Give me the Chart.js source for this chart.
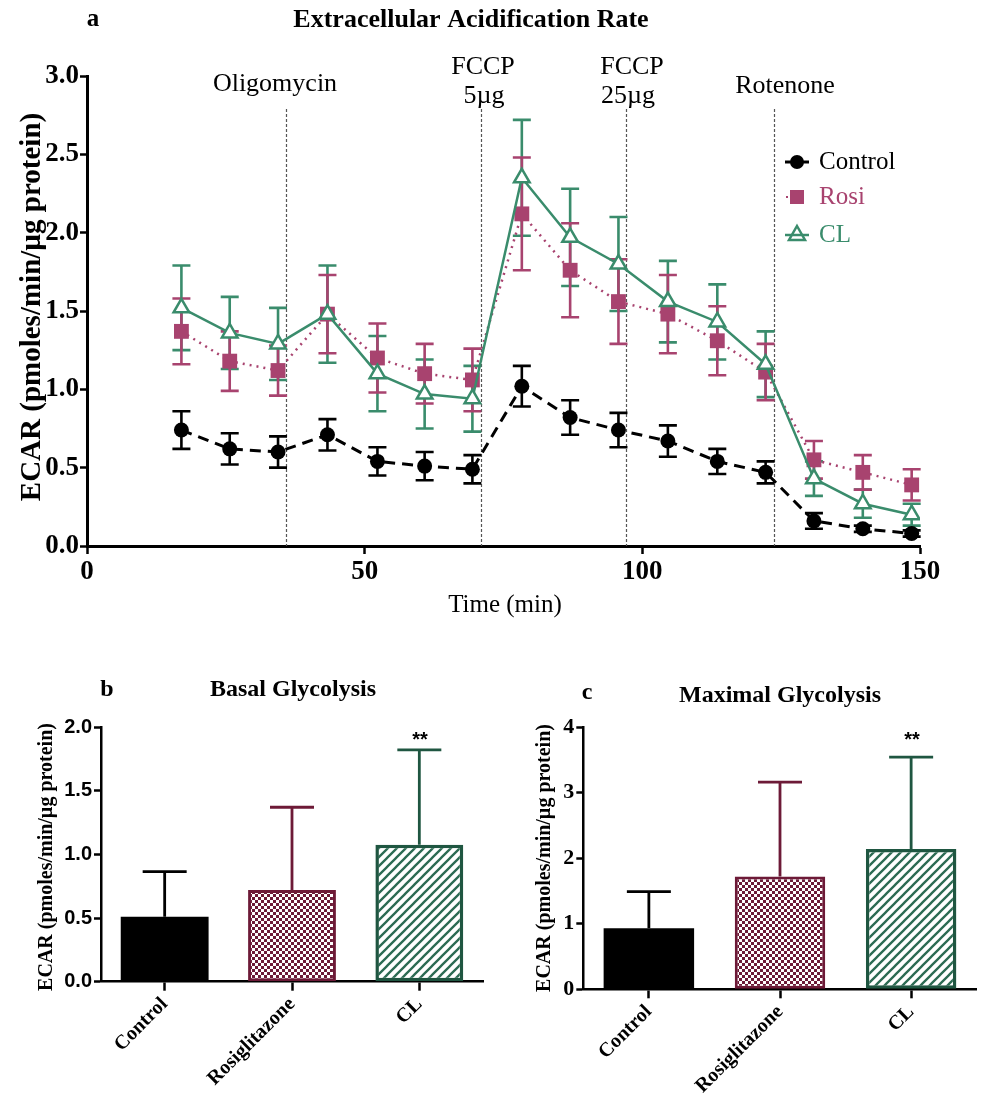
<!DOCTYPE html>
<html>
<head>
<meta charset="utf-8">
<script src="https://cdn.jsdelivr.net/npm/chart.js@4/dist/chart.umd.min.js"></script>
<style>
body { margin: 0; background: #fff; width: 983px; height: 1099px; position: relative; overflow: hidden; }
canvas { position: absolute; }
</style>
</head>
<body>
<canvas id="ecar" width="983" height="625" style="left:0;top:0"></canvas>
<canvas id="basal" width="490" height="439" style="left:0;top:660px"></canvas>
<canvas id="maximal" width="493" height="439" style="left:490px;top:660px"></canvas>
<script>
// time course (panel a)
const times = [17, 25.7, 34.4, 43.3, 52.3, 60.8, 69.4, 78.3, 87, 95.7, 104.6, 113.5, 122.2, 130.9, 139.7, 148.5]
const controlMean = [0.74, 0.62, 0.60, 0.71, 0.54, 0.51, 0.49, 1.02, 0.82, 0.74, 0.67, 0.54, 0.47, 0.16, 0.11, 0.08]
const controlErr = [0.12, 0.10, 0.10, 0.10, 0.09, 0.09, 0.09, 0.13, 0.11, 0.11, 0.10, 0.08, 0.07, 0.05, 0.02, 0.02]
const rosiMean = [1.37, 1.18, 1.12, 1.48, 1.20, 1.10, 1.06, 2.12, 1.76, 1.56, 1.48, 1.31, 1.11, 0.55, 0.47, 0.39]
const rosiErr = [0.21, 0.19, 0.16, 0.25, 0.22, 0.19, 0.20, 0.36, 0.30, 0.27, 0.25, 0.22, 0.18, 0.12, 0.11, 0.10]
const clMean = [1.52, 1.36, 1.29, 1.48, 1.10, 0.97, 0.94, 2.35, 1.97, 1.80, 1.56, 1.43, 1.16, 0.43, 0.27, 0.20]
const clErr = [0.27, 0.23, 0.23, 0.31, 0.24, 0.22, 0.21, 0.37, 0.31, 0.30, 0.26, 0.24, 0.21, 0.11, 0.09, 0.07]
const injectTimes = [35.9, 71.0, 97.0, 123.7]
const injectTop = 2.79

// bar panels (b, c)
const groups = ['Control', 'Rosiglitazone', 'CL']
const basalMean = [0.51, 0.72, 1.075]
const basalErr = [0.355, 0.65, 0.745]
const maximalMean = [0.93, 1.72, 2.14]
const maximalErr = [0.56, 1.44, 1.40]

const SERIF = '"Liberation Serif", "Times New Roman", serif'
const SANS = '"Liberation Sans", Arial, sans-serif'
const ROSI = '#a8436f'
const CLC = '#3a8c6c'
const MAROON = '#6d1a37'
const DKGREEN = '#1f5641'

// draw a list of text items on a chart canvas
function textPlugin(items) {
    return {
        id: 'texts',
        afterDraw(chart) {
            const ctx = chart.ctx
            items.forEach(t => {
                ctx.save()
                ctx.font = t.font
                ctx.fillStyle = t.color || '#000'
                ctx.textAlign = t.align || 'center'
                ctx.textBaseline = 'middle'
                ctx.translate(t.x, t.y)
                if (t.rot) ctx.rotate(t.rot)
                ctx.fillText(t.text, 0, 0)
                ctx.restore()
            })
        }
    }
}

const lineErrorBars = {
    id: 'lineErrorBars',
    beforeDatasetsDraw(chart) {
        const {ctx, scales: {x, y}} = chart
        // injection lines
        ctx.save()
        ctx.strokeStyle = '#555'
        ctx.lineWidth = 1.2
        ctx.setLineDash([3, 2])
        injectTimes.forEach(t => {
            const px = Math.round(x.getPixelForValue(t)) + 0.5
            ctx.beginPath()
            ctx.moveTo(px, y.getPixelForValue(injectTop))
            ctx.lineTo(px, y.getPixelForValue(0))
            ctx.stroke()
        })
        ctx.restore()
        chart.data.datasets.forEach(ds => {
            ctx.save()
            ctx.strokeStyle = ds.borderColor
            ctx.lineWidth = 2.6
            ds.data.forEach((p, j) => {
                const px = x.getPixelForValue(p.x)
                const lo = y.getPixelForValue(p.y - ds.err[j])
                const hi = y.getPixelForValue(p.y + ds.err[j])
                ctx.beginPath()
                ctx.moveTo(px, lo); ctx.lineTo(px, hi)
                ctx.moveTo(px - 9, lo); ctx.lineTo(px + 9, lo)
                ctx.moveTo(px - 9, hi); ctx.lineTo(px + 9, hi)
                ctx.stroke()
            })
            ctx.restore()
        })
    }
}

const ecarLegend = {
    id: 'ecarLegend',
    afterDraw(chart) {
        const ctx = chart.ctx
        const mx = 797
        ctx.save()
        // Control
        ctx.strokeStyle = '#000'; ctx.lineWidth = 3
        ctx.beginPath(); ctx.moveTo(mx - 12, 162); ctx.lineTo(mx + 12, 162); ctx.stroke()
        ctx.fillStyle = '#000'
        ctx.beginPath(); ctx.arc(mx, 162, 7, 0, Math.PI * 2); ctx.fill()
        // Rosi
        ctx.fillStyle = ROSI
        ctx.fillRect(mx - 11, 196, 2, 2)
        ctx.fillRect(mx - 7, 190, 14, 14)
        // CL
        ctx.strokeStyle = CLC; ctx.lineWidth = 2.5
        ctx.beginPath(); ctx.moveTo(mx - 12, 235); ctx.lineTo(mx + 12, 235); ctx.stroke()
        ctx.beginPath()
        ctx.moveTo(mx, 226); ctx.lineTo(mx + 8, 240); ctx.lineTo(mx - 8, 240); ctx.closePath()
        ctx.stroke()
        ctx.font = '25px ' + SERIF
        ctx.textBaseline = 'middle'
        ctx.textAlign = 'left'
        ctx.fillStyle = '#000'; ctx.fillText('Control', 819, 162)
        ctx.fillStyle = ROSI; ctx.fillText('Rosi', 819, 197)
        ctx.fillStyle = CLC; ctx.fillText('CL', 819, 235)
        ctx.restore()
    }
}

function pts(mean) {
    return times.map((t, i) => ({x: t, y: mean[i]}))
}

new Chart(document.getElementById('ecar'), {
    type: 'line',
    data: {
        datasets: [{
            label: 'CL', data: pts(clMean), err: clErr, order: 0,
            borderColor: CLC, borderWidth: 2.5,
            pointStyle: 'triangle', pointRadius: 9, pointBackgroundColor: '#fff',
            pointBorderColor: CLC, pointBorderWidth: 2.5
        }, {
            label: 'Rosi', data: pts(rosiMean), err: rosiErr, order: 1,
            borderColor: ROSI, borderWidth: 2.5, borderDash: [2, 5],
            pointStyle: 'rect', pointRadius: 10.5, pointBackgroundColor: ROSI, pointBorderWidth: 0
        }, {
            label: 'Control', data: pts(controlMean), err: controlErr, order: 2,
            borderColor: '#000', borderWidth: 3, borderDash: [11, 7],
            pointStyle: 'circle', pointRadius: 7.5, pointBackgroundColor: '#000', pointBorderWidth: 0
        }]
    },
    options: {
        responsive: false, animation: false, devicePixelRatio: 1,
        layout: {padding: {top: 76, right: 63, left: 0, bottom: 0}},
        plugins: {legend: {display: false}, tooltip: {enabled: false}},
        scales: {
            x: {
                type: 'linear', min: 0, max: 150,
                ticks: {stepSize: 50, color: '#000', padding: 2, maxRotation: 0, font: {family: SERIF, size: 27, weight: 'bold'}},
                grid: {drawOnChartArea: false, tickLength: 8, tickWidth: 2.5, tickColor: '#000'},
                border: {color: '#000', width: 3},
                afterFit: s => { s.height = 79 }
            },
            y: {
                min: 0, max: 3,
                ticks: {stepSize: 0.5, color: '#000', padding: 1, font: {family: SERIF, size: 27, weight: 'bold'}, callback: v => v.toFixed(1)},
                grid: {drawOnChartArea: false, tickLength: 7, tickWidth: 2.5, tickColor: '#000'},
                border: {color: '#000', width: 3},
                afterFit: s => { s.width = 87 }
            }
        }
    },
    plugins: [lineErrorBars, ecarLegend, textPlugin([
        {text: 'a', x: 93, y: 20, font: 'bold 25px ' + SERIF},
        {text: 'Extracellular Acidification Rate', x: 471, y: 20, font: 'bold 26px ' + SERIF},
        {text: 'Oligomycin', x: 275, y: 84, font: '26px ' + SERIF},
        {text: 'FCCP', x: 483, y: 67, font: '26px ' + SERIF},
        {text: '5µg', x: 484, y: 96, font: '26px ' + SERIF},
        {text: 'FCCP', x: 632, y: 67, font: '26px ' + SERIF},
        {text: '25µg', x: 628, y: 96, font: '26px ' + SERIF},
        {text: 'Rotenone', x: 785, y: 86, font: '26px ' + SERIF},
        {text: 'ECAR (pmoles/min/µg protein)', x: 33, y: 307, rot: -Math.PI / 2, font: 'bold 29px ' + SERIF},
        {text: 'Time (min)', x: 505, y: 605, font: '25px ' + SERIF}
    ])]
})

function checker() {
    const c = document.createElement('canvas')
    c.width = 6; c.height = 6
    const g = c.getContext('2d')
    g.fillStyle = MAROON; g.fillRect(0, 0, 6, 6)
    g.fillStyle = '#fff'
    g.fillRect(0, 0, 3, 3); g.fillRect(3, 3, 3, 3)
    return g.createPattern(c, 'repeat')
}

function hatch() {
    const c = document.createElement('canvas')
    c.width = 9; c.height = 9
    const g = c.getContext('2d')
    g.fillStyle = '#fff'; g.fillRect(0, 0, 9, 9)
    g.strokeStyle = '#2c6b53'; g.lineWidth = 2.3
    g.beginPath()
    g.moveTo(-1, 10); g.lineTo(10, -1)
    g.moveTo(-2, 2); g.lineTo(2, -2)
    g.moveTo(7, 11); g.lineTo(11, 7)
    g.stroke()
    return g.createPattern(c, 'repeat')
}

const barErrorBars = {
    id: 'barErrorBars',
    afterDatasetsDraw(chart) {
        const {ctx, scales: {y}} = chart
        const ds = chart.data.datasets[0]
        chart.getDatasetMeta(0).data.forEach((bar, i) => {
            const top = y.getPixelForValue(ds.data[i])
            const hi = y.getPixelForValue(ds.data[i] + ds.err[i])
            ctx.save()
            ctx.strokeStyle = ds.errColor[i]
            ctx.lineWidth = 2.8
            ctx.beginPath()
            ctx.moveTo(bar.x, top); ctx.lineTo(bar.x, hi)
            ctx.moveTo(bar.x - 22, hi); ctx.lineTo(bar.x + 22, hi)
            ctx.stroke()
            ctx.restore()
        })
    }
}

function barChart(id, mean, err, yMax, step, tickFont, fmt, yWidth, rightPad, xHeight, texts) {
    return new Chart(document.getElementById(id), {
        type: 'bar',
        data: {
            labels: groups,
            datasets: [{
                data: mean, err: err,
                errColor: ['#000', MAROON, DKGREEN],
                backgroundColor: ['#000', checker(), hatch()],
                borderColor: ['#000', MAROON, DKGREEN],
                borderWidth: [0, 3, 3.5],
                borderSkipped: false,
                barPercentage: 0.69, categoryPercentage: 1
            }]
        },
        options: {
            responsive: false, animation: false, devicePixelRatio: 1,
            layout: {padding: {top: 67, right: rightPad, left: 0, bottom: 0}},
            plugins: {legend: {display: false}, tooltip: {enabled: false}},
            scales: {
                x: {
                    offset: true,
                    ticks: {minRotation: 45, maxRotation: 45, color: '#000', padding: 2, font: {family: SERIF, size: 20, weight: 'bold'}},
                    grid: {offset: false, drawOnChartArea: false, tickLength: 9, tickWidth: 2.5, tickColor: '#000'},
                    border: {color: '#000', width: 2.5},
                    afterFit: s => { s.height = xHeight }
                },
                y: {
                    min: 0, max: yMax,
                    ticks: {stepSize: step, color: '#000', padding: 2, font: tickFont, callback: fmt},
                    grid: {drawOnChartArea: false, tickLength: 7, tickWidth: 2.5, tickColor: '#000'},
                    border: {color: '#000', width: 2.5},
                    afterFit: s => { s.width = yWidth }
                }
            }
        },
        plugins: [barErrorBars, textPlugin(texts)]
    })
}

barChart('basal', basalMean, basalErr, 2, 0.5, {family: SANS, size: 20, weight: 'bold'}, v => v.toFixed(1), 101, 7, 117.3, [
    {text: 'b', x: 107, y: 30, font: 'bold 24px ' + SERIF},
    {text: 'Basal Glycolysis', x: 293, y: 30, font: 'bold 24px ' + SERIF},
    {text: '**', x: 420, y: 80, font: 'bold 20px ' + SANS},
    {text: 'ECAR (pmoles/min/µg protein)', x: 47, y: 197, rot: -Math.PI / 2, font: 'bold 20px ' + SERIF}
])

barChart('maximal', maximalMean, maximalErr, 4, 1, {family: SERIF, size: 22, weight: 'bold'}, v => v, 93.3, 6.3, 109.7, [
    {text: 'c', x: 97, y: 33, font: 'bold 24px ' + SERIF},
    {text: 'Maximal Glycolysis', x: 290, y: 36, font: 'bold 24px ' + SERIF},
    {text: '**', x: 422, y: 80, font: 'bold 20px ' + SANS},
    {text: 'ECAR (pmoles/min/µg protein)', x: 55, y: 198, rot: -Math.PI / 2, font: 'bold 20px ' + SERIF}
])
</script>
</body>
</html>
